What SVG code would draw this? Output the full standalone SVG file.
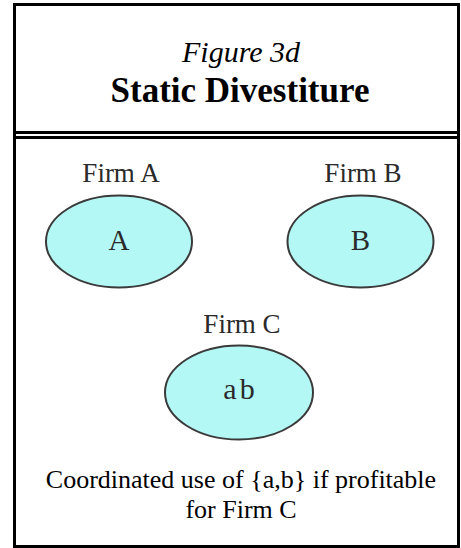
<svg xmlns="http://www.w3.org/2000/svg" width="461" height="548" viewBox="0 0 461 548">
<style>
.frame{fill:none;stroke:#000;stroke-width:3}
.rule{stroke:#000;stroke-width:3}
.node{fill:#b3f8f5;stroke:#3a3a3a;stroke-width:2}
text{font-family:'Liberation Serif','Times New Roman',serif;text-anchor:middle}
.lbl{fill:#2a2a2a}
.cap{fill:#000}
</style>
<rect width="461" height="548" fill="#fff"/>
<rect class="frame" x="14.5" y="4.5" width="444" height="542"/>
<line class="rule" x1="16" y1="132.5" x2="457" y2="132.5"/>
<line class="rule" x1="16" y1="137.5" x2="457" y2="137.5"/>
<text class="cap" x="241" y="62" font-size="30" font-style="italic">Figure 3d</text>
<text class="cap" x="240" y="102" font-size="35" font-weight="bold">Static Divestiture</text>
<g id="connectors"></g>
<g id="firmA">
<text class="lbl" x="121" y="182" font-size="27">Firm A</text>
<ellipse class="node" cx="119" cy="241.5" rx="73" ry="46"/>
<text class="lbl" x="119" y="250" font-size="29">A</text>
</g>
<g id="firmB">
<text class="lbl" x="363" y="182" font-size="27">Firm B</text>
<ellipse class="node" cx="360.5" cy="241.5" rx="73" ry="46"/>
<text class="lbl" x="360.5" y="250" font-size="29">B</text>
</g>
<g id="firmC">
<text class="lbl" x="242" y="333" font-size="27">Firm C</text>
<ellipse class="node" cx="239" cy="392.5" rx="74" ry="47"/>
<text class="lbl" x="240.5" y="399" font-size="30" letter-spacing="3">ab</text>
</g>
<text class="cap" x="241" y="488" font-size="26">Coordinated use of {a,b} if profitable</text>
<text class="cap" x="241" y="518" font-size="26">for Firm C</text>
</svg>
